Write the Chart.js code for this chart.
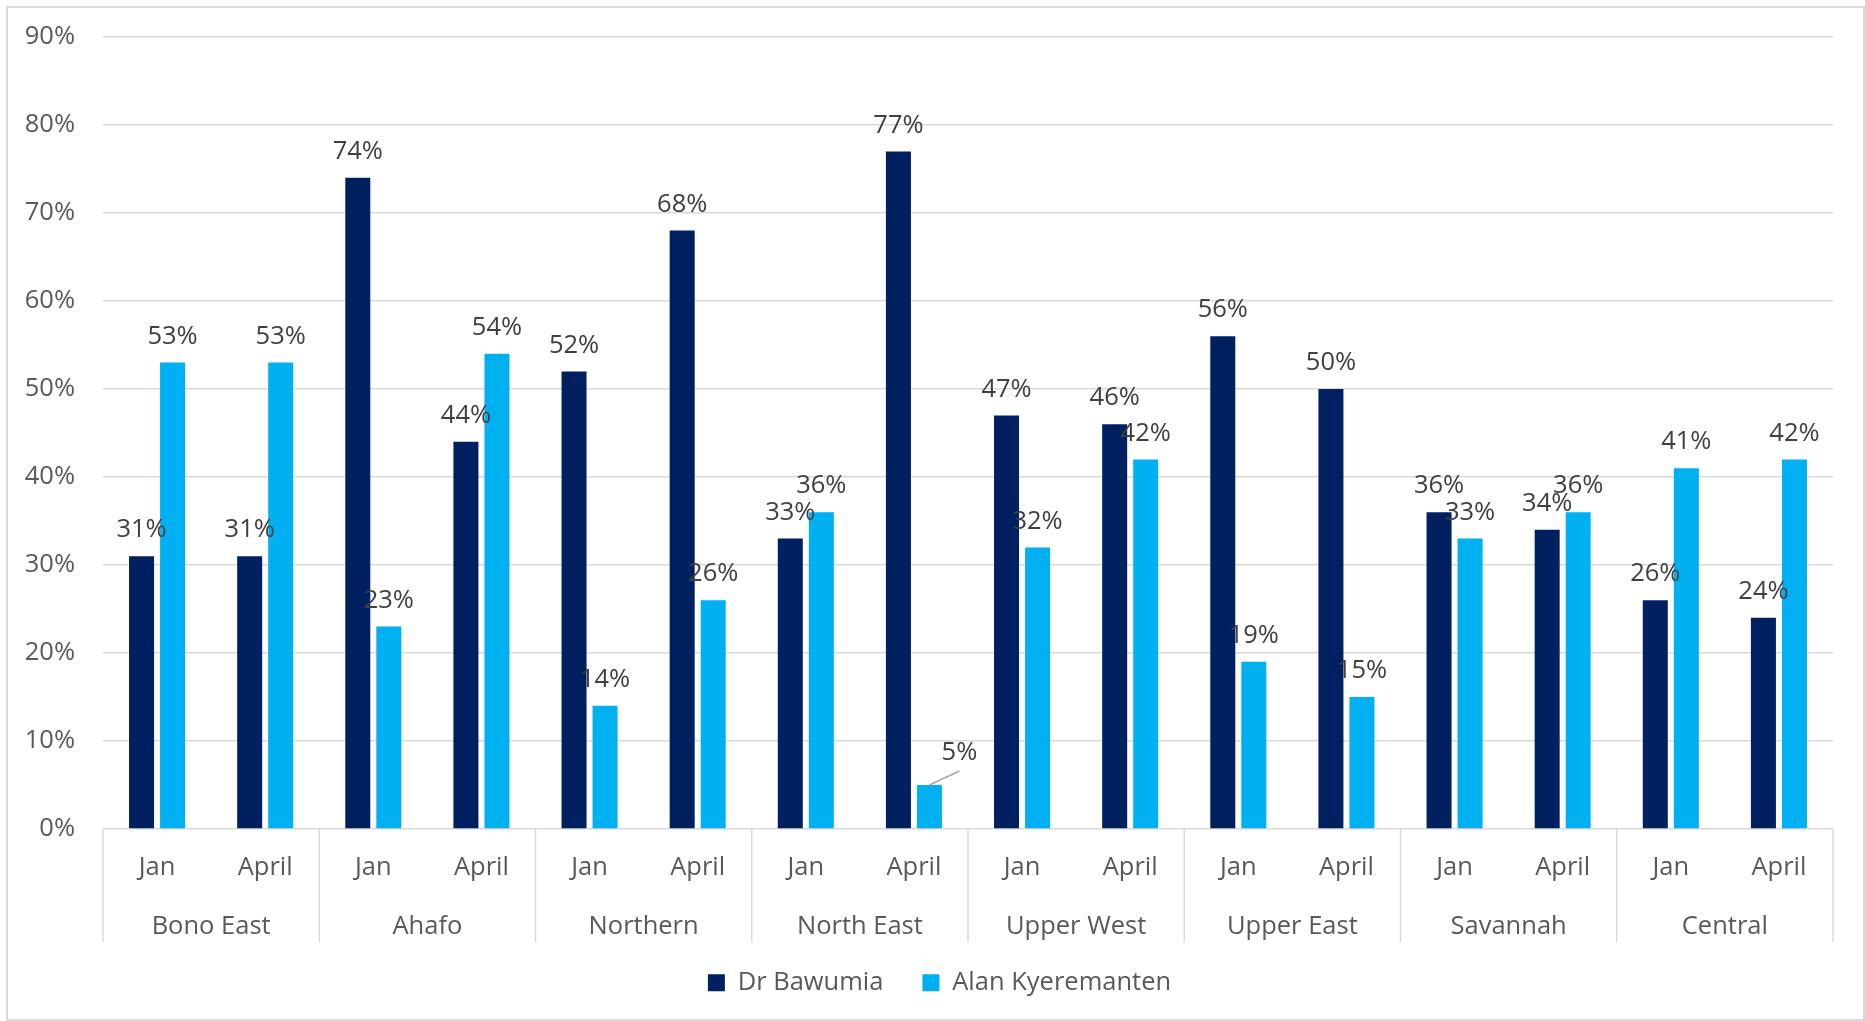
<!DOCTYPE html>
<html><head><meta charset="utf-8">
<script src="https://cdn.jsdelivr.net/npm/chart.js@4.4.1/dist/chart.umd.min.js"></script>
<style>
html,body{margin:0;padding:0;background:#fff;}
#frame{position:absolute;left:6px;top:6px;width:1859px;height:1015px;border:2px solid #d9d9d9;box-sizing:border-box;}
#wrap{position:absolute;left:0;top:0;width:1865px;height:1021px;}
</style></head><body>
<div id="frame"></div>
<div id="wrap"><canvas id="c" width="1865" height="1021"></canvas></div>
<script>
const groups = ['Bono East','Ahafo','Northern','North East','Upper West','Upper East','Savannah','Central'];
const periods = ['Jan','April'];
const categories = groups.flatMap(() => periods);
const seriesNames = ['Dr Bawumia','Alan Kyeremanten'];
const bawumia     = [31,31, 74,44, 52,68, 33,77, 47,46, 56,50, 36,34, 26,24];
const kyeremanten = [53,53, 23,54, 14,26, 36,5,  32,42, 19,15, 33,36, 41,42];
const yTickValues = [0,10,20,30,40,50,60,70,80,90];

const FONT_SIZE = 25.5;
Chart.defaults.font.family = "'Open Sans', sans-serif";

const valueLabels = {
  id: 'valueLabels',
  afterDatasetsDraw(chart) {
    const ctx = chart.ctx;
    ctx.save();
    ctx.font = FONT_SIZE + "px 'Open Sans', sans-serif";
    ctx.fillStyle = '#404040';
    ctx.textAlign = 'center';
    ctx.textBaseline = 'middle';
    chart.data.datasets.forEach((ds, di) => {
      const meta = chart.getDatasetMeta(di);
      meta.data.forEach((bar, i) => {
        let x = bar.x, y = bar.y - 26;
        if (di === 1 && i === 7) { // North East April label pulled aside with a leader line
          ctx.strokeStyle = '#a6a6a6';
          ctx.lineWidth = 1.5;
          ctx.beginPath();
          ctx.moveTo(bar.x, bar.y);
          ctx.lineTo(bar.x + 30, bar.y - 14);
          ctx.stroke();
          x = bar.x + 30; y = bar.y - 32;
        }
        ctx.fillText(ds.data[i] + '%', x, y);
      });
    });
    ctx.restore();
  }
};

const groupSeparators = {
  id: 'groupSeparators',
  afterDraw(chart) {
    const xs = chart.scales.x;
    const ctx = chart.ctx;
    const n = xs.getLabels().length;
    const per = (xs.right - xs.left) / n;
    const top = chart.chartArea.bottom;
    ctx.save();
    ctx.strokeStyle = '#d9d9d9';
    ctx.lineWidth = 1.5;
    for (let k = 0; k <= n; k += periods.length) {
      const px = xs.left + per * k;
      ctx.beginPath();
      ctx.moveTo(px, top);
      ctx.lineTo(px, top + 113);
      ctx.stroke();
    }
    ctx.restore();
  }
};

const legendShift = {
  id: 'legendShift',
  afterLayout(chart) {
    const L = chart.legend;
    L.left += 23; L.right += 23;
    L.top -= 10; L.bottom -= 10;
  }
};

new Chart(document.getElementById('c'), {
  type: 'bar',
  data: {
    labels: categories,
    datasets: [
      { label: seriesNames[0], data: bawumia, backgroundColor: '#002060', categoryPercentage: 0.574, barPercentage: 0.806 },
      { label: seriesNames[1], data: kyeremanten, backgroundColor: '#00B0F0', categoryPercentage: 0.574, barPercentage: 0.806 }
    ]
  },
  options: {
    responsive: false,
    devicePixelRatio: 1,
    animation: false,
    layout: { padding: { top: 37, right: 32, bottom: 5.5, left: 0 } },
    plugins: {
      tooltip: { enabled: false },
      legend: {
        position: 'bottom',
        labels: { boxWidth: 17, boxHeight: 17, padding: 39, color: '#595959', font: { size: FONT_SIZE } }
      }
    },
    scales: {
      y: {
        min: 0, max: 90,
        afterBuildTicks(scale) { scale.ticks = yTickValues.map(v => ({ value: v })); },
        afterFit(scale) { scale.width = 103; scale.paddingTop = 0; scale.paddingBottom = 0; },
        ticks: { callback: v => v + '%', color: '#595959', font: { size: FONT_SIZE }, padding: 28 },
        grid: { color: '#d9d9d9', lineWidth: 1.5, drawTicks: false },
        border: { display: false }
      },
      x: {
        weight: 0,
        afterFit(scale) { scale.height = 66; },
        ticks: { color: '#595959', font: { size: FONT_SIZE }, padding: 23.5, maxRotation: 0, autoSkip: false },
        grid: { display: false, drawTicks: false },
        border: { display: false }
      },
      x2: {
        type: 'category',
        position: 'bottom',
        weight: 1,
        labels: groups,
        offset: true,
        afterFit(scale) { scale.height = 46; },
        ticks: { color: '#595959', font: { size: FONT_SIZE }, padding: 16, maxRotation: 0, autoSkip: false },
        grid: { display: false, drawTicks: false },
        border: { display: false }
      }
    }
  },
  plugins: [valueLabels, groupSeparators, legendShift]
});
</script>
</body></html>
